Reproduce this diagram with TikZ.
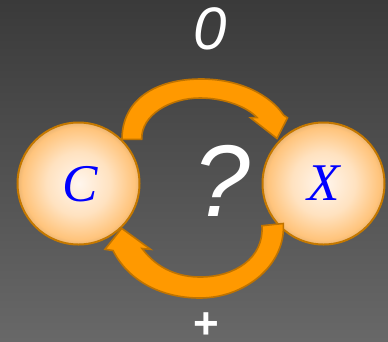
\documentclass[tikz,border=0pt]{standalone}
\usepackage{fontspec}
\setmainfont{Liberation Serif}
\newfontfamily\sansf{Liberation Sans}
\definecolor{bgtop}{HTML}{3A3A3A}
\definecolor{bgbot}{HTML}{686868}
\definecolor{ballin}{HTML}{FFF6EE}
\definecolor{ballmid}{HTML}{FFE2C0}
\definecolor{ballout}{HTML}{FFC47C}
\definecolor{ballborder}{HTML}{C47800}
\definecolor{arrfill}{HTML}{FF9900}
\definecolor{arrborder}{HTML}{BF7300}
\pgfdeclareradialshading{ballshade}{\pgfpoint{0bp}{0bp}}{color(0bp)=(ballin); color(13bp)=(ballmid); color(23bp)=(ballout); color(25bp)=(ballout!92!black); color(50bp)=(ballout)}
\begin{document}
\begin{tikzpicture}[x=1pt,y=-1pt,
  ball/.style={circle, minimum size=122pt, inner sep=0pt, shading=ballshade, draw=ballborder, line width=2pt},
  blockarrow/.style={fill=arrfill, draw=arrborder, line width=1.6pt, line join=miter},
  whitetext/.style={text=white, inner sep=0pt},
  vartext/.style={text=blue, inner sep=0pt, font=\itshape\fontsize{53}{53}\selectfont}]
\useasboundingbox (0,0) rectangle (388,341);
\shade[top color=bgtop, bottom color=bgbot] (0,0) rectangle (388,341);
% circles
\node[ball] (c) at (78.5,183.5) {};
\node[ball] (x) at (323.5,183.5) {};
\node[vartext] (cl) at (80.5,184) {C};
\node[vartext] (xl) at (324,183.5) {X};
% top arrow
\draw[blockarrow] (122,139.3) .. controls (122,100) and (155,79) .. (201,79)
  .. controls (240,79) and (270,95) .. (283.5,115)
  -- (287.5,117.8) -- (277,138.5) -- (250.5,117.8) -- (257,117.5)
  .. controls (247,107) and (225,98) .. (200,98)
  .. controls (170,98) and (141,115) .. (141.7,139.3) -- cycle;
% bottom arrow
\draw[blockarrow] (283.3,223.5) .. controls (286,265) and (245,298) .. (200,298)
  .. controls (160,298) and (128,280) .. (113,250.5)
  -- (105,249.3) -- (121.7,228.3) -- (150.5,249.3) -- (142,248.5)
  .. controls (158,270) and (180,277) .. (200,277)
  .. controls (235,277) and (264,258) .. (262,225.7) -- cycle;
% labels
\node[whitetext, font=\sansf\itshape\fontsize{60}{60}\selectfont] (zero) at (210,28.5) {0};
\node[whitetext, font=\sansf\itshape\fontsize{102}{102}\selectfont] (q) at (222,180.5) {?};
\node[whitetext, font=\sansf\bfseries\fontsize{44}{44}\selectfont] (plus) at (206,325.5) {+};
\end{tikzpicture}
\end{document}
